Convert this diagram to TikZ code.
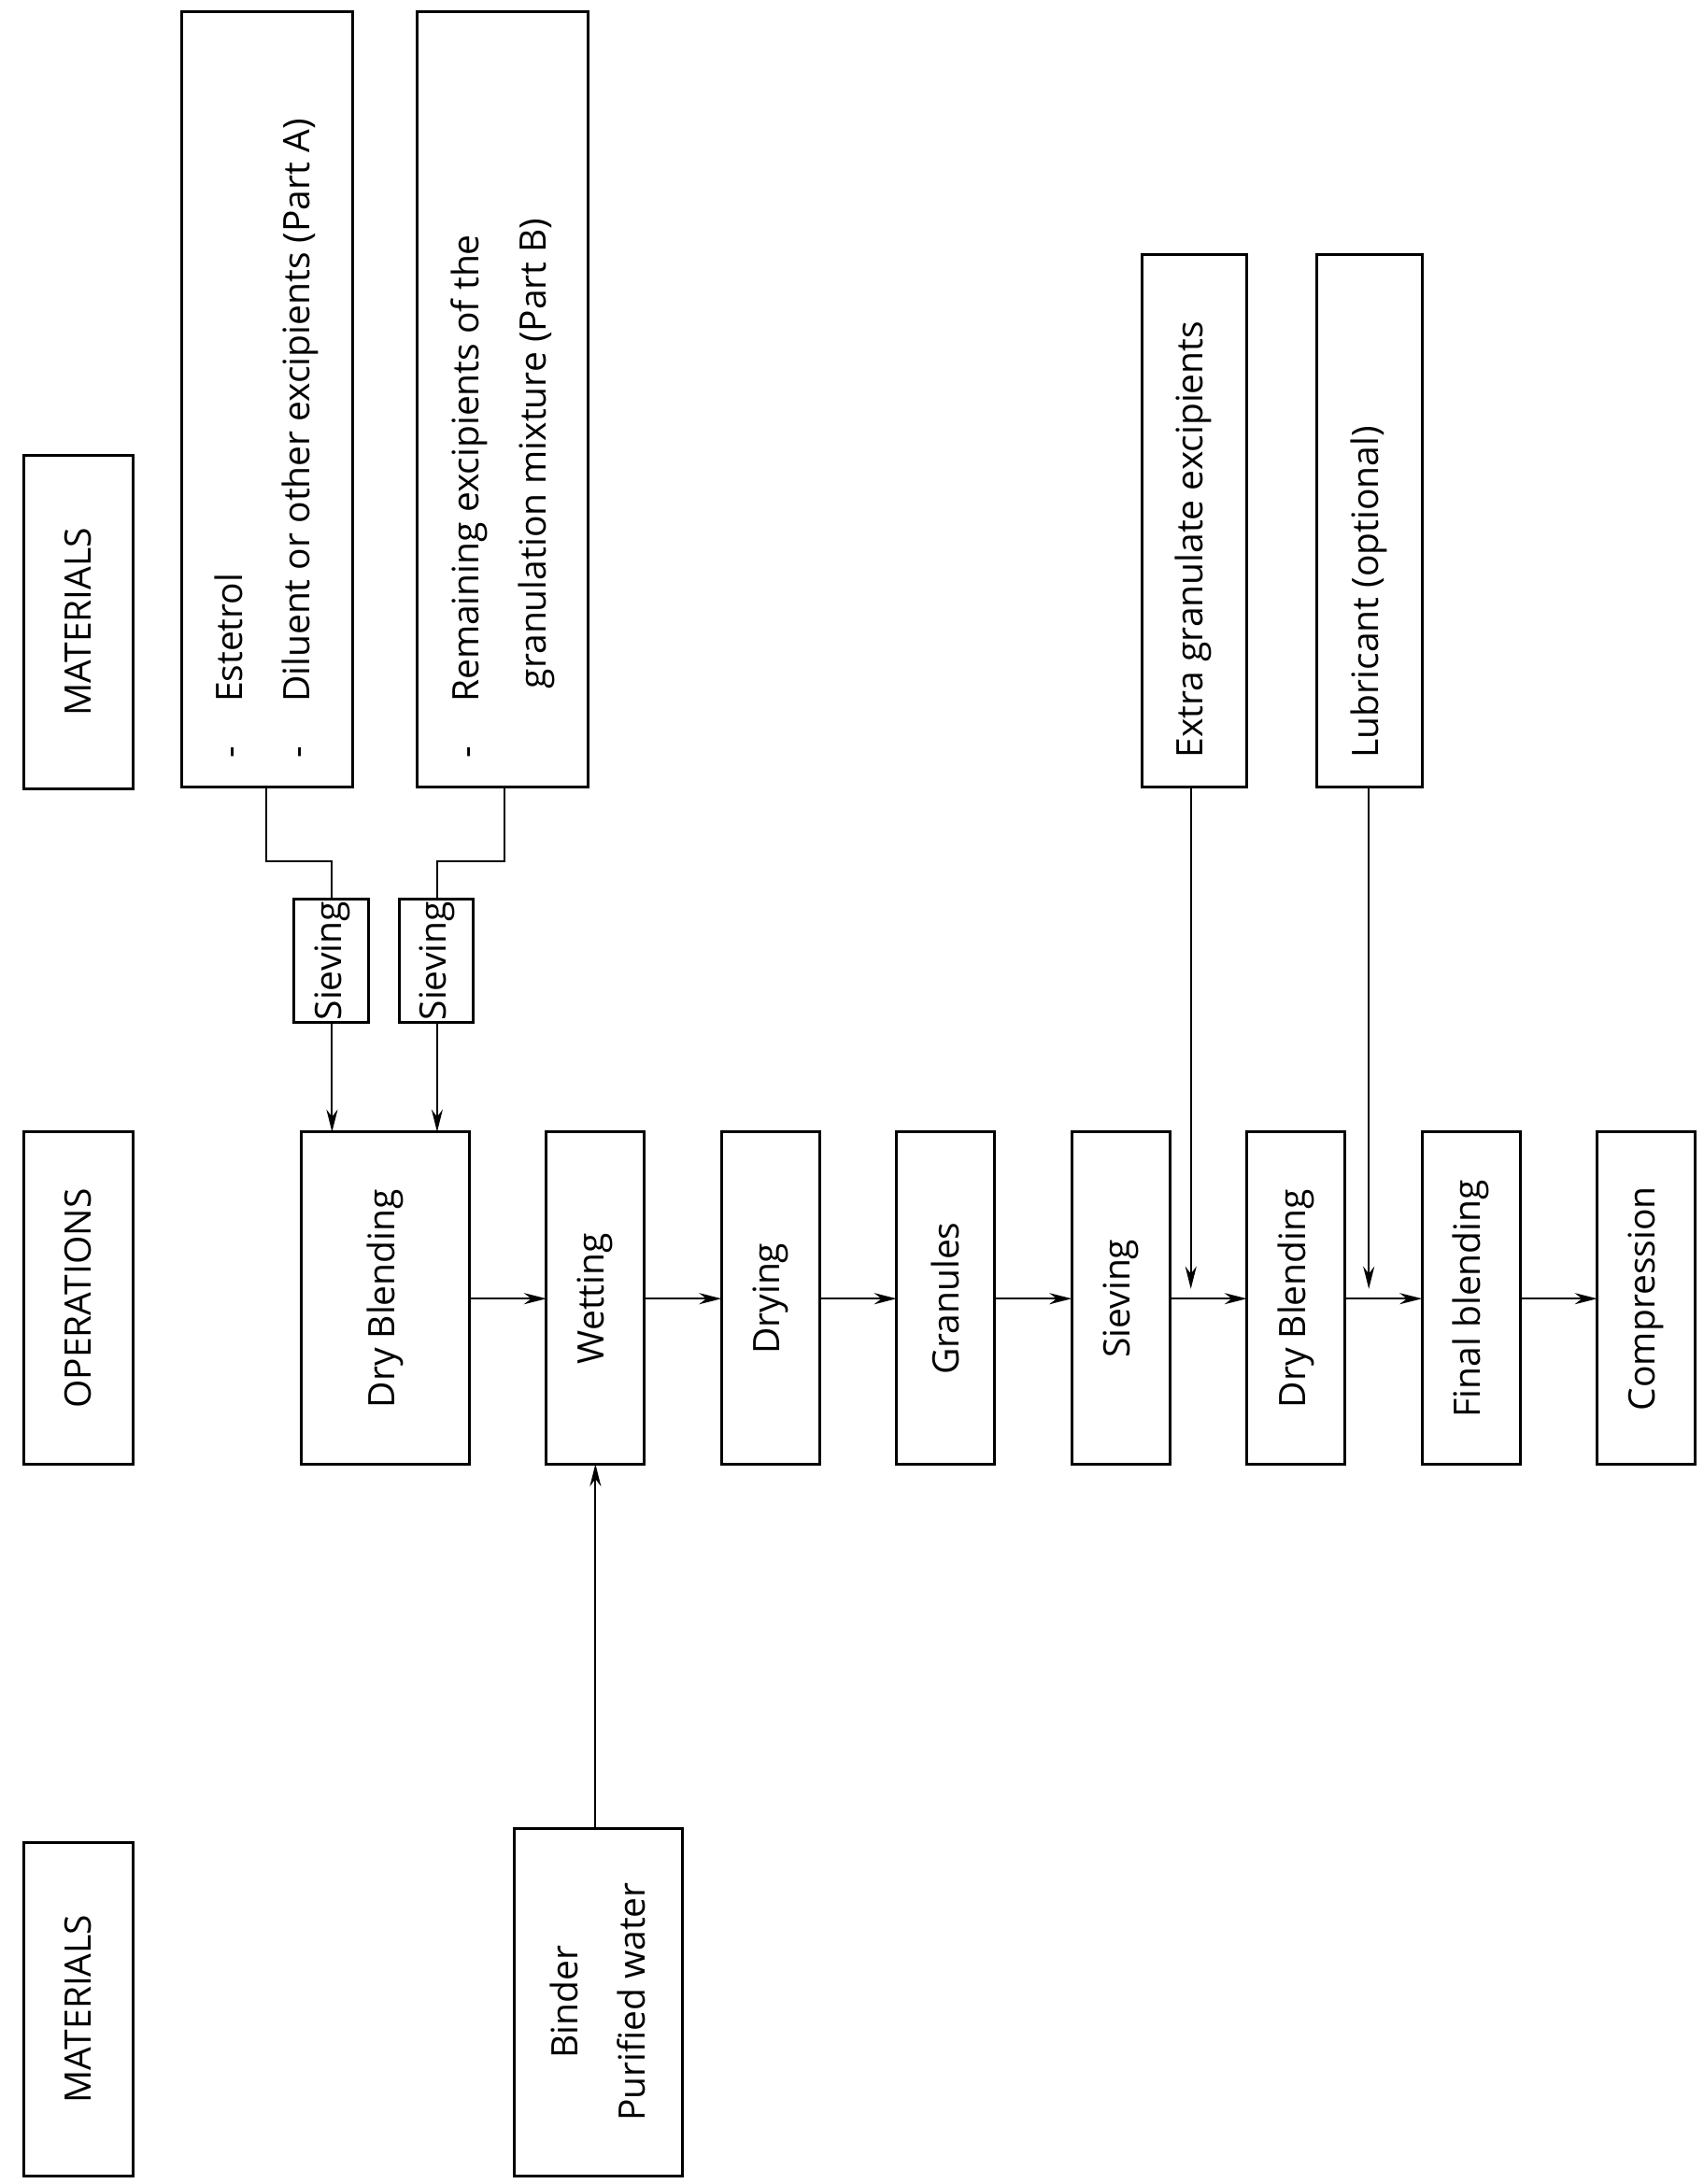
\documentclass[tikz,border=0pt]{standalone}
\usepackage{fontspec}
\setmainfont{Open Sans}
\usetikzlibrary{arrows.meta}
\begin{document}
\begin{tikzpicture}[x=0.5pt,y=-0.5pt,
  bx/.style={draw,line width=1pt},
  tx/.style={rotate=90,font=\fontsize{13}{24}\selectfont},
  ln/.style={line width=0.7pt},
  ar/.style={ln,-{Stealth[length=8pt,width=4pt]}}]
\useasboundingbox (0,0) rectangle (1216,1559);
\fill[white] (0,0) rectangle (1216,1559);
% header boxes
\draw[bx] (17,325) rectangle (95,563); \node[tx] (m1) at (56,444) {MATERIALS};
\draw[bx] (17,808) rectangle (95,1045); \node[tx] (op) at (56,927) {OPERATIONS};
\draw[bx] (17,1315) rectangle (95,1553); \node[tx] (m2) at (56,1434) {MATERIALS};
% material boxes
\draw[bx] (130,8) rectangle (252,562);
\node[tx,anchor=west,align=left] (pa) at (190,548) {-\hspace{1.2em}Estetrol\\-\hspace{1.2em}Diluent or other excipients (Part A)};
\draw[bx] (298,8) rectangle (420,562);
\node[tx,anchor=west,align=left] (pb) at (359,548) {-\hspace{1.2em}Remaining excipients of the\\\hspace{1.9em}granulation mixture (Part B)};
\draw[bx] (815,182) rectangle (890,562); \node[tx,anchor=west] (ex) at (852,548) {Extra granulate excipients};
\draw[bx] (940,182) rectangle (1015,562); \node[tx,anchor=west] (lu) at (977,548) {Lubricant (optional)};
\draw[bx] (367,1305) rectangle (487,1553);
\node[tx,align=center] (bi) at (427,1429) {Binder\\Purified water};
% sieving small
\draw[bx] (210,642) rectangle (263,730); \node[tx] (s1) at (237,686) {Sieving};
\draw[bx] (285,642) rectangle (338,730); \node[tx] (s2) at (312,686) {Sieving};
\draw[ln] (190,562) -- (190,615) -- (237,615) -- (237,642);
\draw[ln] (360,562) -- (360,615) -- (312,615) -- (312,642);
\draw[ar] (237,730) -- (237,808);
\draw[ar] (312,730) -- (312,808);
% operations
\foreach \a/\b/\t/\n in {215/335/Dry Blending/o1,390/460/Wetting/o2,515/585/Drying/o3,640/710/Granules/o4,765/835/Sieving/o5,890/960/Dry Blending/o6,1015/1085/Final blending/o7,1140/1210/Compression/o8}{
  \draw[bx] (\a,808) rectangle (\b,1045);
  \node[tx] (\n) at ({(\a+\b)/2},927) {\t};
}
\foreach \a/\b in {335/390,460/515,585/640,710/765,835/890,960/1015,1085/1140}{
  \draw[ar] (\a,927) -- (\b,927);
}
\draw[ar] (425,1305) -- (425,1045);
\draw[ar] (850,562) -- (850,920);
\draw[ar] (977,562) -- (977,920);
\end{tikzpicture}
\end{document}
